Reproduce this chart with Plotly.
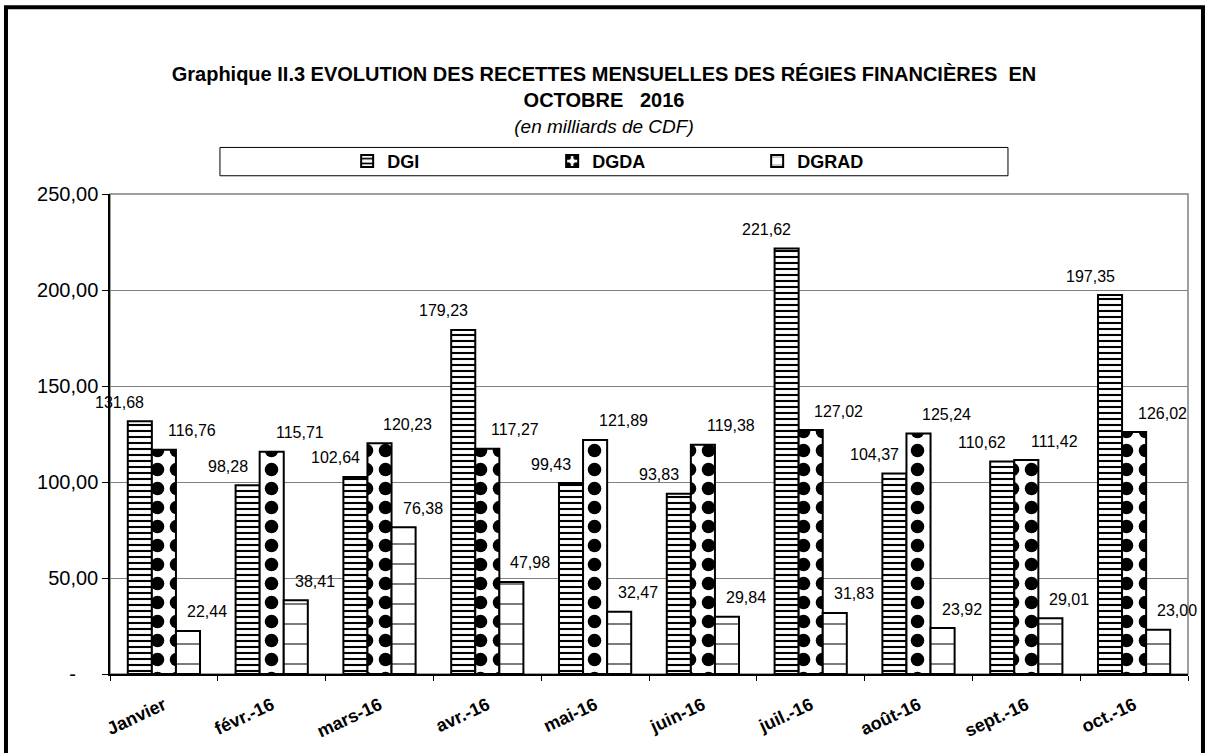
import plotly.graph_objects as go

months = ["Janvier", "févr.-16", "mars-16", "avr.-16", "mai-16", "juin-16",
          "juil.-16", "août-16", "sept.-16", "oct.-16"]
dgi = [131.68, 98.28, 102.64, 179.23, 99.43, 93.83, 221.62, 104.37, 110.62, 197.35]
dgda = [116.76, 115.71, 120.23, 117.27, 121.89, 119.38, 127.02, 125.24, 111.42, 126.02]
dgrad = [22.44, 38.41, 76.38, 47.98, 32.47, 29.84, 31.83, 23.92, 29.01, 23.00]
y_ticks = [0, 50, 100, 150, 200, 250]
y_ticktext = ["-\u00a0\u00a0\u00a0\u00a0", "50,00", "100,00", "150,00", "200,00", "250,00"]

FONT = "Arial, Liberation Sans, sans-serif"

# name, values, pattern, label x-shift from category centre (px)
series = [
    ("DGI", dgi, dict(shape="-", size=6, solidity=0.35, fgcolor="black"), -44),
    ("DGDA", dgda, dict(shape=".", size=19, solidity=0.4, fgcolor="black"), 28),
    ("DGRAD", dgrad, dict(shape="-", size=20, solidity=0.07, fgcolor="#444444"), 43),
]

fig = go.Figure()
for name, vals, pat, shift in series:
    fig.add_trace(go.Bar(
        name=name, x=months, y=vals,
        marker=dict(color="white", line=dict(color="black", width=2),
                    pattern=dict(bgcolor="white", fgopacity=1, **pat)),
    ))
    for m, v in zip(months, vals):
        fig.add_annotation(
            x=m, y=v, text=f"{v:.2f}".replace(".", ","), showarrow=False,
            xshift=shift, yshift=19, yanchor="middle",
            font=dict(family=FONT, size=16, color="black"),
        )

fig.update_layout(
    width=1208, height=753,
    margin=dict(l=110, r=20, t=194, b=76),
    paper_bgcolor="white", plot_bgcolor="white",
    barmode="group", bargap=0.33, bargroupgap=0,
    font=dict(family=FONT, color="black"),
    title=dict(
        text="<b>Graphique II.3 EVOLUTION DES RECETTES MENSUELLES DES RÉGIES FINANCIÈRES  EN<br>OCTOBRE   2016</b>"
             "<br><span style='font-size:19px'><i>(en milliards de CDF)</i></span>",
        x=0.5, xanchor="center", y=0.893, yanchor="top",
        font=dict(family=FONT, size=20, color="black"),
    ),
    showlegend=True,
    legend=dict(orientation="h", x=0.22, xanchor="left", y=1.068, yanchor="middle",
                bgcolor="rgba(0,0,0,0)", entrywidth=160,
                font=dict(family=FONT, size=18, color="black", weight="bold"),
                itemsizing="constant"),
    shapes=[
        # outer frame
        dict(type="rect", xref="paper", yref="paper", x0=-0.0965, x1=1.0139, y0=-0.2, y1=1.389,
             line=dict(color="black", width=4), fillcolor="rgba(0,0,0,0)", layer="above"),
        # legend box
        dict(type="rect", xref="paper", yref="paper", x0=0.102, x1=0.833, y0=1.038, y1=1.097,
             line=dict(color="black", width=1), fillcolor="rgba(0,0,0,0)"),
        # plot area border
        dict(type="rect", xref="paper", yref="paper", x0=0, x1=1, y0=0, y1=1,
             line=dict(color="#808080", width=1.5), fillcolor="rgba(0,0,0,0)", layer="below"),
    ],
)

fig.update_xaxes(
    range=[-0.5, len(months) - 0.5], autorange=False,
    showline=True, linecolor="black", linewidth=1.5,
    ticks="outside", ticklen=5, tickcolor="black", tickson="boundaries",
    tickangle=-25, tickfont=dict(family=FONT, size=18, color="black", weight="bold"),
    ticklabelstandoff=12,
    showgrid=False,
)
fig.update_yaxes(
    range=[0, 250], autorange=False, tickvals=y_ticks, ticktext=y_ticktext,
    showline=True, linecolor="black", linewidth=1.5,
    ticks="outside", ticklen=6, tickcolor="black",
    tickfont=dict(family=FONT, size=20, color="black"),
    showgrid=True, gridcolor="#808080", gridwidth=1,
    zeroline=False,
)

fig.write_html("out.html", config={"displayModeBar": False},
               post_script="document.body.style.margin='0';")
